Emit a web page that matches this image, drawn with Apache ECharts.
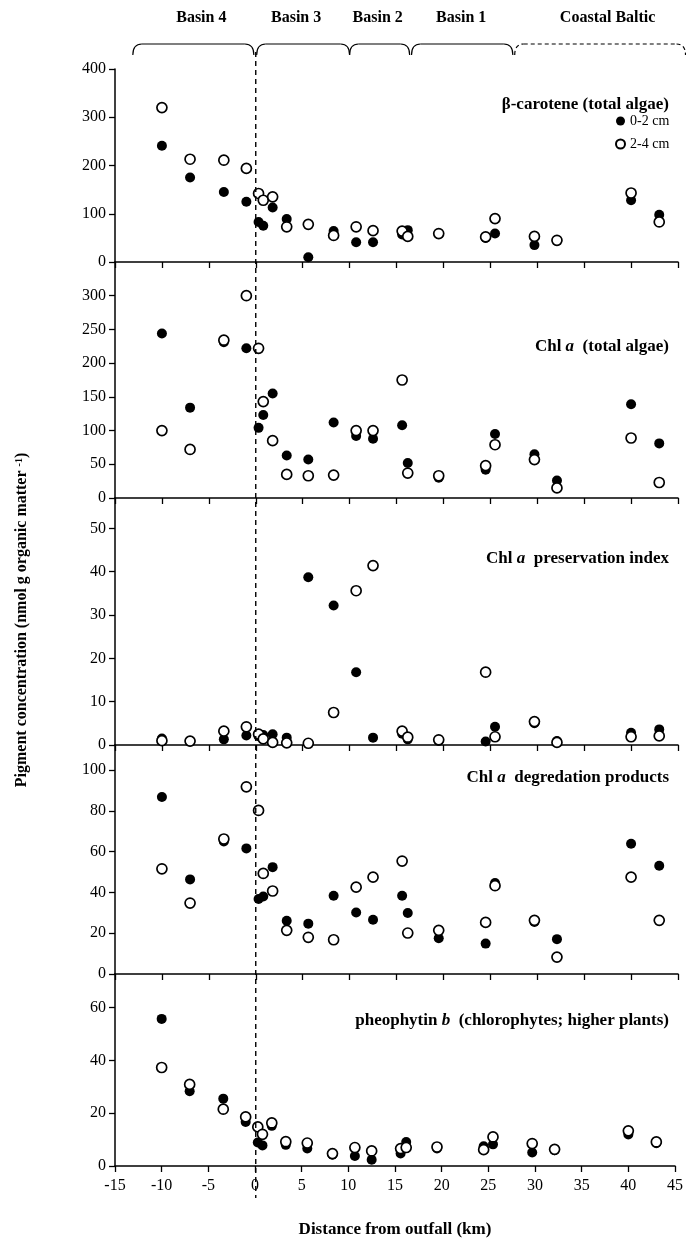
<!DOCTYPE html>
<html>
<head>
<meta charset="utf-8">
<title>Pigment concentration vs distance from outfall</title>
<script src="https://cdn.jsdelivr.net/npm/echarts@6.0.0/dist/echarts.min.js"></script>
<style>
  html, body { margin: 0; padding: 0; background: #fff; }
  #chart { width: 686px; height: 1243px; }
</style>
</head>
<body>
<div id="chart"></div>
<script>
// station distances from the outfall (km)
const distance = [-10, -7, -3.4, -1, 0.3, 0.8, 1.8, 3.3, 5.6, 8.3, 10.7, 12.5, 15.6, 16.2, 19.5, 24.5, 25.5, 29.7, 32.1, 40, 43]
const depthNames = ['0-2 cm', '2-4 cm']

// beta-carotene
const betaTop = [241, 175, 145, 125, 83, 75, 113, 89, 10, 64, 41, 41, 57, 66, 58, 50, 59, 35, 44, 128, 98]
const betaSub = [320, 213, 211, 194, 142, 128, 135, 73, 78, 55, 73, 65, 64, 53, 59, 52, 90, 53, 45, 143, 83]
// Chl a
const chlTop = [244, 134, 231, 222, 104, 123, 155, 63, 57, 112, 92, 88, 108, 52, 30, 42, 95, 65, 26, 139, 81]
const chlSub = [100, 72, 234, 300, 222, 143, 85, 35, 33, 34, 100, 100, 175, 37, 33, 48, 79, 57, 15, 89, 23]
// Chl a preservation index
const presTop = [1.5, 0.8, 1.3, 2.2, 2.0, 2.3, 2.5, 1.7, 38.7, 32.2, 16.8, 1.7, 2.6, 1.3, 1.0, 0.8, 4.2, 5.0, 0.9, 2.8, 3.6]
const presSub = [1.0, 0.9, 3.2, 4.2, 2.5, 1.4, 0.6, 0.5, 0.4, 7.5, 35.6, 41.4, 3.2, 1.8, 1.2, 16.8, 1.9, 5.4, 0.6, 1.9, 2.1]
// Chl a degradation products
const degTop = [86.8, 46.4, 65, 61.6, 36.8, 38, 52.4, 26.1, 24.7, 38.4, 30.2, 26.6, 38.4, 29.9, 17.5, 14.9, 44.6, 25.5, 17.1, 63.9, 53.1]
const degSub = [51.6, 34.8, 66.2, 91.8, 80.2, 49.3, 40.7, 21.4, 18, 16.8, 42.6, 47.5, 55.4, 20.1, 21.4, 25.3, 43.3, 26.3, 8.3, 47.5, 26.3]
// pheophytin b
const pheoTop = [55.7, 28.3, 25.5, 16.7, 8.9, 7.8, 15.2, 8.0, 6.6, 4.3, 3.8, 2.4, 4.7, 9.1, 6.6, 7.5, 8.2, 5.1, 6.0, 11.9, 8.6]
const pheoSub = [37.3, 30.9, 21.5, 18.6, 14.8, 12.0, 16.3, 9.2, 8.7, 4.7, 7.0, 5.7, 6.6, 7.0, 7.2, 6.2, 11.0, 8.5, 6.3, 13.3, 9.1]

// basins along the transect (km)
const basinNames = ['Basin 4', 'Basin 3', 'Basin 2', 'Basin 1', 'Coastal Baltic']
const basinFrom = [-13.1, 0.1, 10.0, 16.6, 27.6]
const basinTo = [-0.2, 10.0, 16.4, 27.4, 45.8]
const basinLabelAt = [-5.8, 4.3, 13.0, 21.9, 37.5]

const FONT = 'Liberation Serif'

// panel layout: grid top / height, y-axis max & interval
const panels = [
  { top: 69, height: 193, max: 400, interval: 100, a: betaTop, b: betaSub, title: '{n|β-carotene (total algae)}', ty: 91 },
  { top: 262, height: 236, max: 350, interval: 50, a: chlTop, b: chlSub, title: '{n|Chl }{i|a}{n|  (total algae)}', ty: 333 },
  { top: 498, height: 247, max: 57, interval: 10, a: presTop, b: presSub, title: '{n|Chl }{i|a}{n|  preservation index}', ty: 545 },
  { top: 745, height: 229, max: 112.3, interval: 20, a: degTop, b: degSub, title: '{n|Chl }{i|a}{n|  degredation products}', ty: 764 },
  { top: 974, height: 192, max: 72.7, interval: 20, a: pheoTop, b: pheoSub, title: '{n|pheophytin }{i|b}{n|  (chlorophytes; higher plants)}', ty: 1007 }
]

const titleRich = {
  n: { fontFamily: FONT, fontWeight: 'bold', fontSize: 17, color: '#000' },
  i: { fontFamily: FONT, fontWeight: 'bold', fontStyle: 'italic', fontSize: 17, color: '#000' }
}

let chart = echarts.init(document.getElementById('chart'))

let grid = []
let xAxis = []
let yAxis = []
let series = []
let title = []
panels.forEach((p, i) => {
  let last = i === panels.length - 1
  grid.push({ left: 115, right: 8, top: p.top, height: p.height })
  xAxis.push({
    gridIndex: i,
    type: 'value',
    min: -15,
    max: 45,
    interval: 5,
    position: 'bottom',
    axisLine: { onZero: false, lineStyle: { color: '#000', width: 1.5 } },
    axisTick: { show: true, length: 6, lineStyle: { color: '#000', width: 1.3 } },
    axisLabel: {
      show: last,
      color: '#000',
      fontFamily: FONT,
      fontSize: 16,
      margin: 12
    },
    splitLine: { show: false },
    name: last ? 'Distance from outfall (km)' : '',
    nameLocation: 'middle',
    nameGap: 55,
    nameTextStyle: { color: '#000', fontFamily: FONT, fontWeight: 'bold', fontSize: 17 }
  })
  yAxis.push({
    gridIndex: i,
    type: 'value',
    min: 0,
    max: p.max,
    interval: p.interval,
    position: 'left',
    axisLine: { show: true, onZero: false, lineStyle: { color: '#000', width: 1.5 } },
    axisTick: { show: true, length: 6, lineStyle: { color: '#000', width: 1.3 } },
    axisLabel: {
      color: '#000',
      fontFamily: FONT,
      fontSize: 16,
      margin: 9,
      showMaxLabel: i === 0
    },
    splitLine: { show: false }
  })
  // 0-2 cm: filled dots
  series.push({
    name: depthNames[0],
    type: 'scatter',
    xAxisIndex: i,
    yAxisIndex: i,
    symbol: 'circle',
    symbolSize: 10,
    itemStyle: { color: '#000', opacity: 1 },
    data: distance.map((d, k) => [d, p.a[k]]),
    z: 2
  })
  // 2-4 cm: open circles
  series.push({
    name: depthNames[1],
    type: 'scatter',
    xAxisIndex: i,
    yAxisIndex: i,
    symbol: 'circle',
    symbolSize: 10,
    itemStyle: { color: '#fff', borderColor: '#000', borderWidth: 1.7, opacity: 1 },
    data: distance.map((d, k) => [d, p.b[k]]),
    z: 3
  })
  title.push({
    text: p.title,
    right: 12,
    top: p.ty,
    textStyle: { rich: titleRich }
  })
})

chart.setOption({
  animation: false,
  backgroundColor: '#fff',
  title: title,
  legend: {
    data: depthNames,
    orient: 'vertical',
    left: 610,
    top: 109,
    icon: 'circle',
    itemWidth: 9,
    itemHeight: 9,
    itemGap: 9,
    selectedMode: false,
    textStyle: { color: '#000', fontFamily: FONT, fontSize: 14 }
  },
  grid: grid,
  xAxis: xAxis,
  yAxis: yAxis,
  series: series
})

// basin brackets, labels and the dashed outfall line
let graphic = []
basinNames.forEach((name, i) => {
  let x1 = chart.convertToPixel({ xAxisIndex: 0 }, basinFrom[i])
  let x2 = chart.convertToPixel({ xAxisIndex: 0 }, basinTo[i])
  let y0 = 44
  let y1 = 55
  let r = 9
  let style = {
    fill: null,
    stroke: '#000',
    lineWidth: 1.2,
    lineDash: i === basinNames.length - 1 ? [4, 3] : null
  }
  graphic.push({
    type: 'bezierCurve',
    shape: { x1: x1, y1: y1, cpx1: x1, cpy1: y0, x2: x1 + r, y2: y0 },
    style: style
  })
  graphic.push({
    type: 'line',
    shape: { x1: x1 + r, y1: y0, x2: x2 - r, y2: y0 },
    style: style
  })
  graphic.push({
    type: 'bezierCurve',
    shape: { x1: x2 - r, y1: y0, cpx1: x2, cpy1: y0, x2: x2, y2: y1 },
    style: style
  })
  graphic.push({
    type: 'text',
    x: chart.convertToPixel({ xAxisIndex: 0 }, basinLabelAt[i]),
    y: 18,
    style: {
      text: name,
      fill: '#000',
      font: 'bold 16px ' + FONT,
      align: 'center',
      verticalAlign: 'middle'
    }
  })
})
let x0 = chart.convertToPixel({ xAxisIndex: 0 }, 0)
graphic.push({
  type: 'line',
  shape: { x1: x0, y1: 52, x2: x0, y2: 1198 },
  style: { stroke: '#000', lineWidth: 1.4, lineDash: [5, 4] },
  z: 10
})
// y-axis title
graphic.push({
  type: 'text',
  x: 22,
  y: 620,
  rotation: Math.PI / 2,
  style: {
    text: '{n|Pigment concentration (nmol g organic matter }{s|-1}{n|)}',
    align: 'center',
    verticalAlign: 'middle',
    rich: {
      n: { fontFamily: FONT, fontWeight: 'bold', fontSize: 16, fill: '#000' },
      s: { fontFamily: FONT, fontWeight: 'bold', fontSize: 10, fill: '#000', verticalAlign: 'top', padding: [0, 0, 6, 0] }
    }
  }
})
chart.setOption({ graphic: graphic })
</script>
</body>
</html>
